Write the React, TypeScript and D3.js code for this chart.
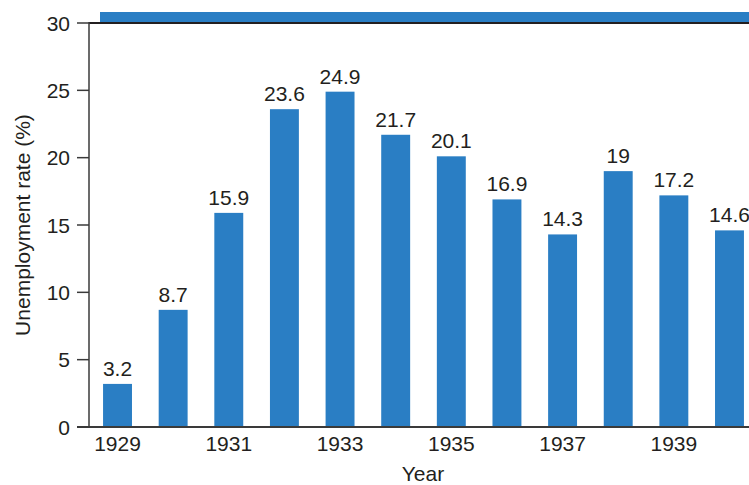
import React from "react";
import * as d3 from "d3";

const years: number[] = [1929, 1930, 1931, 1932, 1933, 1934, 1935, 1936, 1937, 1938, 1939, 1940];
const rates: number[] = [3.2, 8.7, 15.9, 23.6, 24.9, 21.7, 20.1, 16.9, 14.3, 19, 17.2, 14.6];
const yTicks: number[] = [0, 5, 10, 15, 20, 25, 30];
const xTickYears: number[] = [1929, 1931, 1933, 1935, 1937, 1939];

const W = 749;
const H = 485;
const BLUE = "#2a7ec4";
const INK = "#231f20";
const FONT = "'Liberation Sans', Arial, Helvetica, sans-serif";
const FS = 21;

export default function App() {
  const plotLeft = 89;
  const plotTop = 23;
  const plotBottom = 427;

  const y = d3.scaleLinear().domain([0, 30]).range([plotBottom, plotTop]);
  const x = d3
    .scaleBand<number>()
    .domain(years)
    .range([89.7, 757.3])
    .paddingInner(0.48)
    .paddingOuter(0.24);

  return (
    <svg
      width={W}
      height={H}
      style={{ position: "absolute", left: 0, top: 0, background: "#fff" }}
      fontFamily={FONT}
    >
      {/* header band */}
      <rect x={100} y={12} width={W - 100} height={10} fill={BLUE} />

      {/* bars */}
      {years.map((yr, i) => (
        <rect
          key={yr}
          x={x(yr)}
          y={y(rates[i])}
          width={x.bandwidth()}
          height={plotBottom - y(rates[i])}
          fill={BLUE}
        />
      ))}

      {/* value labels */}
      {years.map((yr, i) => (
        <text
          key={"v" + yr}
          x={(x(yr) as number) + x.bandwidth() / 2}
          y={y(rates[i]) - 8}
          textAnchor="middle"
          fontSize={FS}
          fill={INK}
        >
          {String(rates[i])}
        </text>
      ))}

      {/* top frame line */}
      <line x1={plotLeft} x2={W} y1={plotTop} y2={plotTop} stroke={INK} strokeWidth={2} />
      {/* baseline */}
      <line x1={plotLeft - 12} x2={W} y1={plotBottom} y2={plotBottom} stroke="#3a3a3a" strokeWidth={2} />
      {/* y axis */}
      <line x1={plotLeft} x2={plotLeft} y1={plotTop - 1} y2={plotBottom} stroke="#3a3a3a" strokeWidth={1.5} />

      {/* y ticks */}
      {yTicks.map((t) => (
        <g key={"t" + t}>
          <line x1={plotLeft - 12} x2={plotLeft} y1={y(t)} y2={y(t)} stroke="#3a3a3a" strokeWidth={1.5} />
          <text
            x={plotLeft - 19}
            y={y(t)}
            dy="0.36em"
            textAnchor="end"
            fontSize={FS}
            fill={INK}
          >
            {t}
          </text>
        </g>
      ))}

      {/* x tick labels */}
      {xTickYears.map((yr) => (
        <text
          key={"x" + yr}
          x={(x(yr) as number) + x.bandwidth() / 2}
          y={451}
          textAnchor="middle"
          fontSize={FS}
          fill={INK}
        >
          {yr}
        </text>
      ))}

      {/* axis titles */}
      <text x={423} y={481} textAnchor="middle" fontSize={FS} fill={INK}>
        Year
      </text>
      <text
        transform={`translate(30, 225) rotate(-90)`}
        textAnchor="middle"
        fontSize={FS}
        fill={INK}
      >
        Unemployment rate (%)
      </text>
    </svg>
  );
}
